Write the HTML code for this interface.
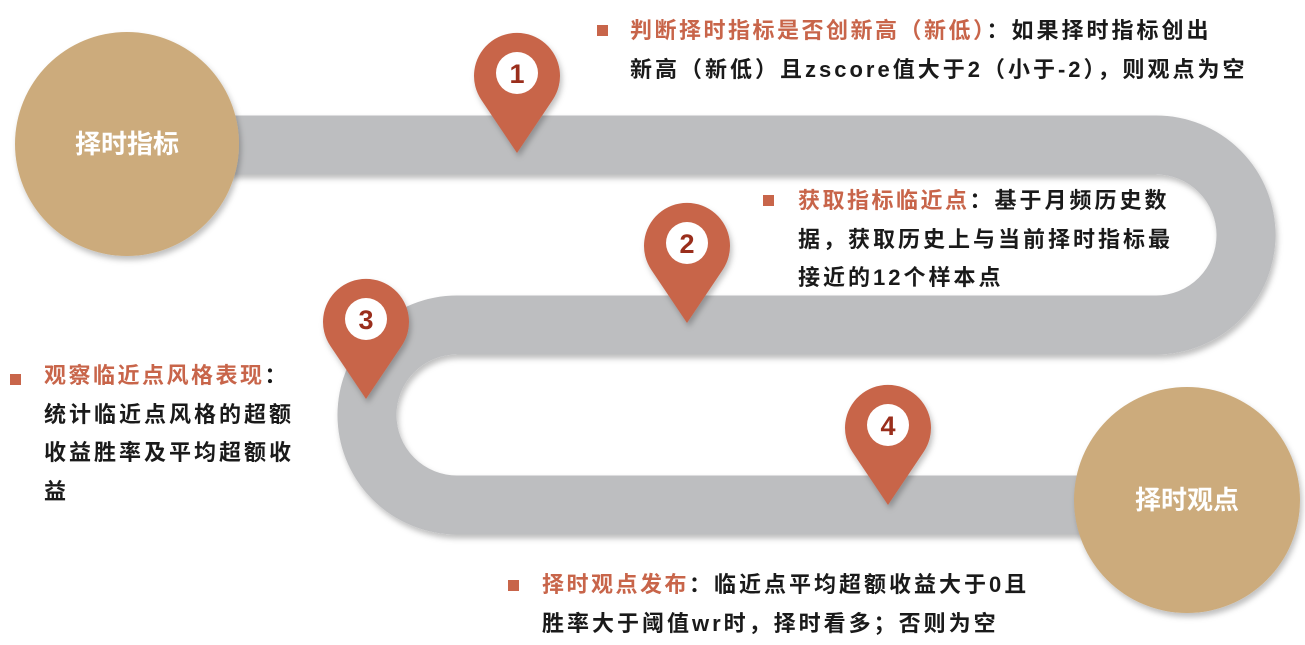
<!DOCTYPE html>
<html><head><meta charset="utf-8"><style>
html,body{margin:0;padding:0;background:#fff;}
body{width:1305px;height:645px;position:relative;overflow:hidden;font-family:"Liberation Sans","Noto Sans CJK SC",sans-serif;}
.t{position:absolute;font-size:22px;line-height:38.5px;color:#1a1a1a;font-weight:bold;letter-spacing:3px;white-space:nowrap;}
.r{color:#c8654a;letter-spacing:2.5px;}
.b{position:absolute;width:11px;height:11px;background:#c8654a;}
</style></head><body>
<svg width="1305" height="645" style="position:absolute;left:0;top:0">
<defs>
<filter id="sh" x="-10%" y="-10%" width="120%" height="130%"><feDropShadow dx="2" dy="4" stdDeviation="3" flood-color="#000" flood-opacity="0.25"/></filter>
</defs>
<path d="M150,145 H1156 A90,90 0 0 1 1156,325 H457 A90,90 0 0 0 457,505 H1190" fill="none" stroke="#bdbec0" stroke-width="59" filter="url(#sh)"/>
<circle cx="127" cy="144" r="112" fill="#ccab7b" filter="url(#sh)"/>
<circle cx="1187" cy="500" r="113" fill="#ccab7b" filter="url(#sh)"/>
<text x="127" y="153" fill="#fff" font-size="26" font-weight="bold" text-anchor="middle" font-family="Liberation Sans,Noto Sans CJK SC,sans-serif">择时指标</text>
<text x="1187" y="509" fill="#fff" font-size="26" font-weight="bold" text-anchor="middle" font-family="Liberation Sans,Noto Sans CJK SC,sans-serif">择时观点</text>
<g font-family="Liberation Sans,sans-serif" font-weight="bold" font-size="27" fill="#9a2e1c" text-anchor="middle">
<g transform="translate(517,76)" filter="url(#sh)"><path d="M-35.6,24 A43,43 0 1 1 35.6,24 L0,77 Z" fill="#c8654a"/><circle cx="0" cy="-3" r="21" fill="#fff"/><text x="0" y="7">1</text></g>
<g transform="translate(687,246)" filter="url(#sh)"><path d="M-35.6,24 A43,43 0 1 1 35.6,24 L0,77 Z" fill="#c8654a"/><circle cx="0" cy="-3" r="21" fill="#fff"/><text x="0" y="7">2</text></g>
<g transform="translate(366,322)" filter="url(#sh)"><path d="M-35.6,24 A43,43 0 1 1 35.6,24 L0,77 Z" fill="#c8654a"/><circle cx="0" cy="-3" r="21" fill="#fff"/><text x="0" y="7">3</text></g>
<g transform="translate(888,428)" filter="url(#sh)"><path d="M-35.6,24 A43,43 0 1 1 35.6,24 L0,77 Z" fill="#c8654a"/><circle cx="0" cy="-3" r="21" fill="#fff"/><text x="0" y="7">4</text></g>
</g>
</svg>
<div class="b" style="left:597px;top:25px"></div>
<div class="t" style="left:630px;top:12px"><span class="r">判断择时指标是否创新高（新低）</span>：如果择时指标创出<br>新高（新低）且zscore值大于2（小于-2），则观点为空</div>
<div class="b" style="left:763px;top:195px"></div>
<div class="t" style="left:798px;top:182px"><span class="r">获取指标临近点</span>：基于月频历史数<br>据，获取历史上与当前择时指标最<br>接近的12个样本点</div>
<div class="b" style="left:10px;top:374px"></div>
<div class="t" style="left:44px;top:357px"><span class="r">观察临近点风格表现</span>：<br>统计临近点风格的超额<br>收益胜率及平均超额收<br>益</div>
<div class="b" style="left:508px;top:580px"></div>
<div class="t" style="left:542px;top:566px"><span class="r">择时观点发布</span>：临近点平均超额收益大于0且<br>胜率大于阈值wr时，择时看多；否则为空</div>
</body></html>
